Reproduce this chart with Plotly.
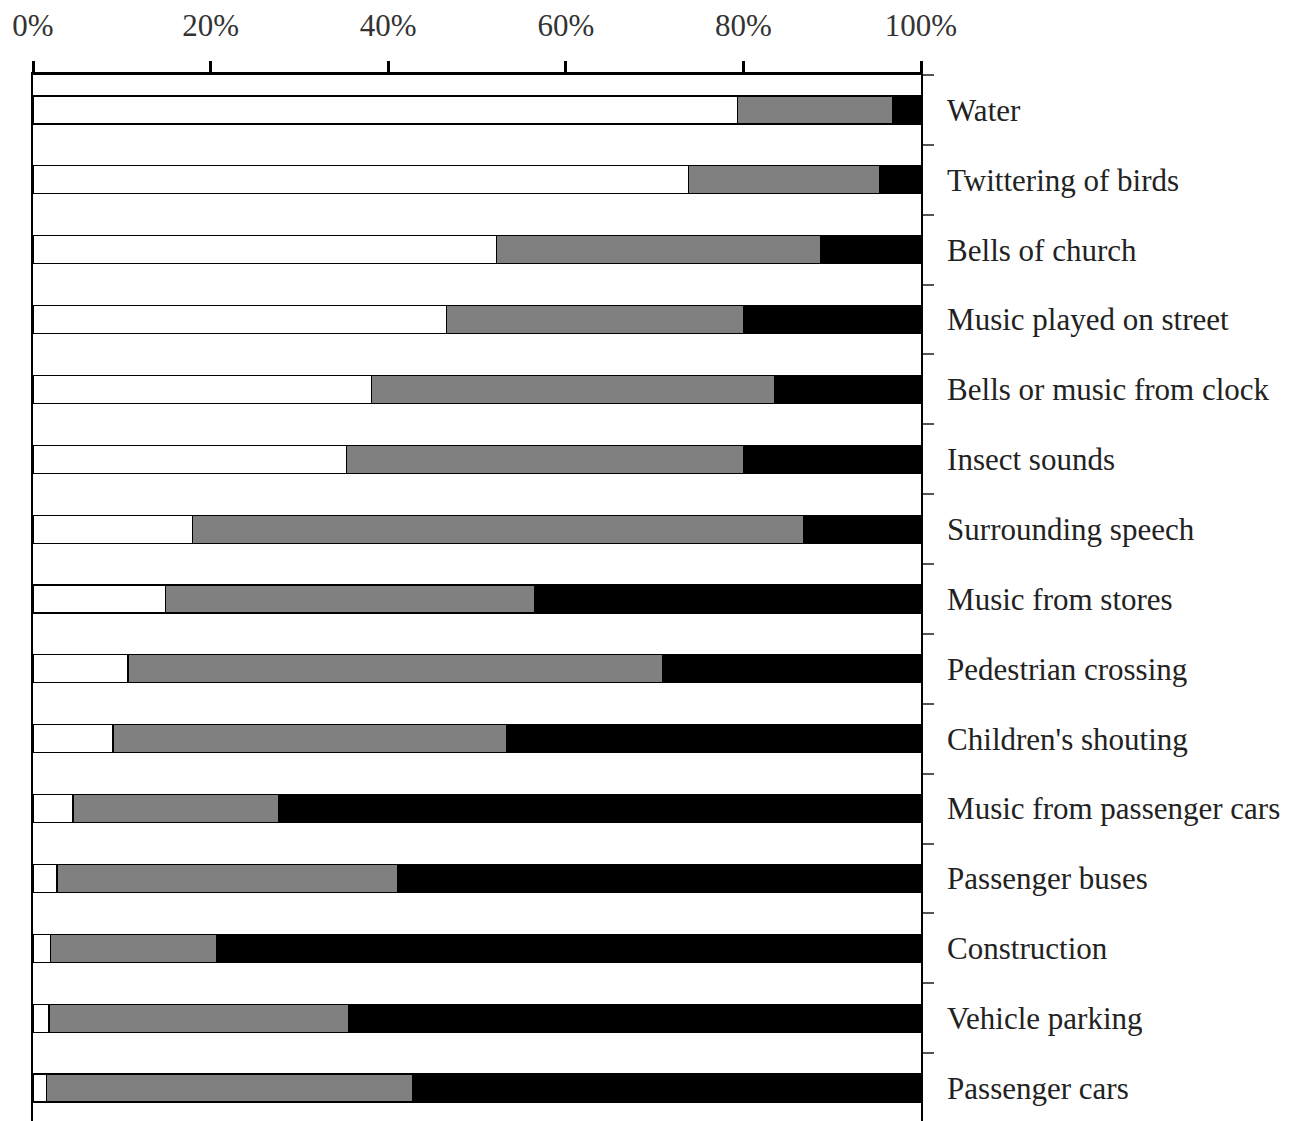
import plotly.graph_objects as go

categories = [
    "Water", "Twittering of birds", "Bells of church", "Music played on street",
    "Bells or music from clock", "Insect sounds", "Surrounding speech",
    "Music from stores", "Pedestrian crossing", "Children's shouting",
    "Music from passenger cars", "Passenger buses", "Construction",
    "Vehicle parking", "Passenger cars",
]
# cumulative boundaries (percent)
white_end = [79.3, 73.8, 52.2, 46.6, 38.1, 35.3, 18.0, 14.9, 10.7, 9.0, 4.5, 2.7, 2.0, 1.8, 1.5]
gray_end = [96.8, 95.3, 88.7, 80.0, 83.5, 80.0, 86.8, 56.5, 70.9, 53.3, 27.7, 41.1, 20.7, 35.5, 42.8]

white_vals = white_end
gray_vals = [g - w for g, w in zip(gray_end, white_end)]
black_vals = [100 - g for g in gray_end]

x_ticks = [0, 20, 40, 60, 80, 100]
x_ticklabels = ["0%", "20%", "40%", "60%", "80%", "100%"]

FONT = "Liberation Serif, Times New Roman, serif"

fig = go.Figure()
for vals, color in [(white_vals, "#ffffff"), (gray_vals, "#808080"), (black_vals, "#000000")]:
    fig.add_trace(go.Bar(
        y=categories, x=vals, orientation="h", width=0.4,
        marker=dict(color=color, line=dict(color="#000000", width=1.2)),
        showlegend=False, hoverinfo="skip",
    ))

fig.update_layout(
    barmode="stack",
    width=1284, height=1121,
    margin=dict(l=25, r=371, t=67, b=6, autoexpand=False),
    paper_bgcolor="white", plot_bgcolor="white",
    font=dict(family=FONT, size=31, color="#000000"),
    xaxis=dict(
        side="top", range=[0, 100], tickvals=x_ticks, ticktext=x_ticklabels,
        ticks="outside", ticklen=11, tickwidth=2.5, tickcolor="#000000",
        showline=True, linewidth=2.5, linecolor="#000000",
        showgrid=False, zeroline=False, automargin=False,
        ticklabelstandoff=13,
        tickfont=dict(family=FONT, size=31, color="#333333"),
    ),
    yaxis=dict(
        side="right", type="category", categoryorder="array", categoryarray=categories,
        range=[14.5, -0.5], tickson="boundaries",
        ticks="outside", ticklen=11, tickwidth=1.5, tickcolor="#555555",
        showline=True, linewidth=1.8, linecolor="#000000", mirror=True,
        showgrid=False, zeroline=False, automargin=False,
        ticklabelstandoff=18,
        tickfont=dict(family=FONT, size=31, color="#222222"),
    ),
)

fig.write_html("out.html")
